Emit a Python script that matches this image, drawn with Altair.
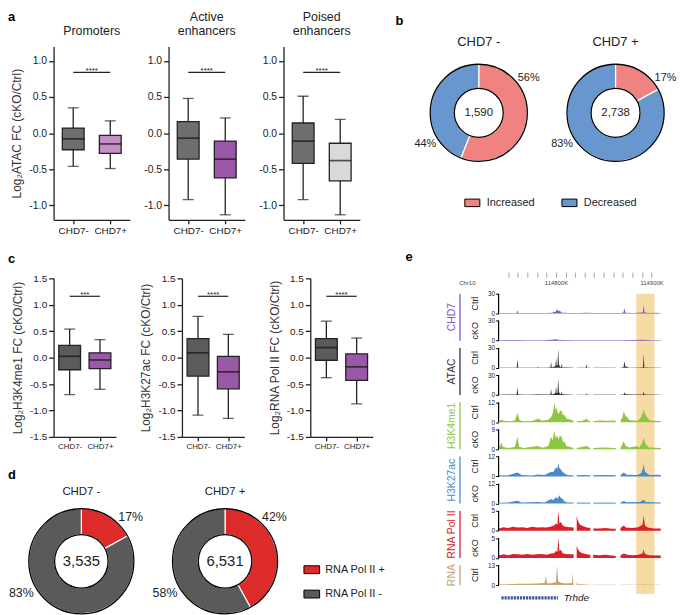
import math
import altair as alt
import pandas as pd

FONT = "Liberation Sans"
INK = "#222222"

# ---------------- data ----------------
groups = ["CHD7-", "CHD7+"]

# panel a : Log2 ATAC FC box statistics (whisker low, Q1, median, Q3, whisker high)
a_titles = [["Promoters"], ["Active", "enhancers"], ["Poised", "enhancers"]]
a_lo = [[-0.46, -0.49], [-0.92, -1.13], [-0.92, -1.13]]
a_q1 = [[-0.23, -0.28], [-0.36, -0.62], [-0.42, -0.66]]
a_med = [[-0.08, -0.15], [-0.07, -0.36], [-0.11, -0.38]]
a_q3 = [[0.07, -0.03], [0.16, -0.11], [0.14, -0.14]]
a_hi = [[0.35, 0.17], [0.48, 0.21], [0.51, 0.19]]
a_fill = [["#6E6E6E", "#C48FC5"], ["#6E6E6E", "#9B58A8"], ["#6E6E6E", "#D9D9D9"]]
a_sig = ["****", "****", "****"]
a_sig_y = [0.84, 0.84, 0.84]
a_ticks = [-1.0, -0.5, 0.0, 0.5, 1.0]
a_ytitle = "Log₂ATAC FC (cKO/Ctrl)"

# panel c
c_ytitles = ["Log₂H3K4me1 FC (cKO/Ctrl)", "Log₂H3K27ac FC (cKO/Ctrl)", "Log₂RNA Pol II FC (cKO/Ctrl)"]
c_lo = [[-0.70, -0.60], [-1.09, -1.15], [-0.38, -0.875]]
c_q1 = [[-0.23, -0.21], [-0.35, -0.59], [-0.05, -0.43]]
c_med = [[0.025, -0.045], [0.09, -0.27], [0.19, -0.175]]
c_q3 = [[0.23, 0.09], [0.36, 0.025], [0.36, 0.07]]
c_hi = [[0.54, 0.34], [0.78, 0.44], [0.69, 0.37]]
c_fill = [["#5B5B5B", "#9A59A7"], ["#5B5B5B", "#9A59A7"], ["#5B5B5B", "#9A59A7"]]
c_sig = ["***", "****", "****"]
c_sig_y = [1.16, 1.16, 1.16]
c_ticks = [-1.5, -1.0, -0.5, 0.0, 0.5, 1.0, 1.5]

# panel b
b_titles = ["CHD7 -", "CHD7 +"]
b_totals = [1590, 2738]
b_cats = ["Increased", "Decreased"]
b_pct = [[56, 44], [17, 83]]
b_colors = ["#F08282", "#6897CF"]

# panel d
d_titles = ["CHD7 -", "CHD7 +"]
d_totals = [3535, 6531]
d_cats = ["RNA Pol II +", "RNA Pol II -"]
d_pct = [[17, 83], [42, 58]]
d_colors = ["#DD2A2B", "#5A5A5A"]

# panel e : genome browser (positions in kb from window start, signal values)
WIN_START = 114740
WIN_END = 114910
ruler_ticks = list(range(114750, 114901, 10))
track_cond = ["Ctrl", "cKO", "Ctrl", "cKO", "Ctrl", "cKO", "Ctrl", "cKO", "Ctrl", "cKO", "Ctrl"]
track_group = [0, 0, 1, 1, 2, 2, 3, 3, 4, 4, 5]
track_max = [30, 30, 30, 30, 12, 9, 12, 12, 5, 5, 13]
group_names = ["CHD7", "ATAC", "H3K4me1", "H3K27ac", "RNA Pol II", "RNA"]
group_colors = ["#7E57C2", "#333333", "#8DC63F", "#4A8ACB", "#DA2128", "#C9A06E"]

chd7_ctrl = [(0.3, 0.6), (10, 0.8), (18.8, 0.7), (19.7, 5), (20.6, 0.8), (30, 0.6), (41, 0.9), (50, 0.7),
             (56.5, 1.2), (58, 3), (59.5, 2), (61.1, 7), (62.5, 3), (64, 4.5), (65.5, 1.5), (68, 1), (75, 0.7),
             (85, 0.8), (92, 1.2), (100, 0.7), (110, 0.9), (120, 0.6), (128, 0.8), (130.6, 1.5), (131.6, 8),
             (132.6, 1.2), (140, 0.8), (150.9, 1.5), (151.7, 14), (152.5, 1.5), (158, 0.8), (165, 1), (169.6, 0.7)]
chd7_cko = [(0.3, 0.6), (15, 0.9), (30, 0.7), (45, 0.8), (55, 1.2), (60, 2), (62, 1.5), (66, 1), (80, 0.8),
            (95, 0.6), (110, 0.8), (125, 0.7), (140, 0.9), (151.7, 1.3), (160, 0.8), (169.6, 0.7)]
atac_ctrl = [(0.3, 0.5), (10, 0.6), (18.9, 0.6), (19.7, 13), (20.5, 0.6), (30, 0.5), (40.5, 0.6), (41.1, 2),
             (41.7, 0.6), (50, 0.6), (54.2, 0.8), (54.9, 9), (55.6, 0.8), (58, 1.5), (59.4, 3), (60.1, 15),
             (60.8, 3), (61.6, 4), (62.3, 29), (63.1, 5), (64.2, 2), (65.4, 1), (66, 7), (66.7, 1), (70, 0.7),
             (78.5, 0.5), None, (81.7, 0.5), (91.2, 0.6), (91.9, 5.5), (92.6, 0.6), (96, 0.5), None,
             (99, 0.5), (110, 0.6), (122.5, 0.5), None, (127.5, 0.5), (130.6, 1), (131.6, 10), (132.5, 2),
             (134.4, 1.5), (136, 0.6), (145, 0.6), (151, 1), (151.7, 21), (152.4, 1), (160, 0.5), (169.6, 0.5)]
atac_cko = [(0.3, 0.5), (10, 0.6), (18.9, 0.6), (19.7, 11.5), (20.5, 0.6), (30, 0.5), (40.5, 0.6), (41.1, 1.5),
            (41.7, 0.6), (50, 0.6), (54.2, 0.8), (54.9, 9), (55.6, 0.8), (59.4, 2.5), (60.1, 13), (60.8, 2.5),
            (61.6, 3.5), (62.3, 25), (63.1, 4.5), (64.2, 2), (65.4, 1), (66, 5.5), (66.7, 1), (70, 0.7),
            (78.5, 0.5), None, (81.7, 0.5), (91.2, 0.5), (91.9, 2.3), (92.6, 0.5), (96, 0.5), None,
            (99, 0.5), (122.5, 0.5), None, (127.5, 0.5), (130.9, 0.6), (131.6, 4.6), (132.4, 1), (140, 0.6),
            (151, 0.8), (151.7, 5.5), (152.4, 0.8), (169.6, 0.5)]
k4_ctrl = [(0.3, 0.6), (2, 1.2), (3.1, 1.5), (5, 0.8), (12, 0.6), (17, 1), (19.7, 5.6), (22, 1.2), (26, 0.6),
           (35, 0.7), (41.1, 2), (46, 0.8), (52, 1.5), (55, 3), (57, 6), (58.4, 12), (59.5, 7), (60.5, 9),
           (61.5, 6), (63, 5), (64.5, 7), (66, 6.6), (67.5, 4), (68.7, 4.5), (71, 2), (75.7, 1.5), (78.5, 0.7),
           None, (81.7, 0.6), (88, 0.8), (91.9, 2), (94, 0.8), (96, 0.6), None, (99, 0.6), (105, 1),
           (113, 0.8), (121, 1), (122.5, 0.7), None, (127.5, 0.8), (129.5, 3), (130.9, 6.6), (132.5, 4),
           (134.4, 3), (137, 1.2), (141.3, 1), (145, 0.8), (148, 2), (150.5, 5), (151.7, 7.7), (153, 5),
           (155.1, 3), (158, 1), (162, 0.8), (169.6, 0.7)]
k4_cko = [(0.3, 0.7), (2, 2), (3.1, 2.9), (4.5, 1), (10, 0.6), (17, 1), (19.7, 5.7), (21.5, 1.2), (26, 0.6),
          (41.1, 1.5), (46, 0.7), (52, 1.5), (54.9, 5.7), (56.5, 4), (58.4, 8.6), (59.5, 5), (61.1, 6.4),
          (62.5, 4.5), (64, 6), (66, 5.7), (67.5, 3), (68.7, 3.6), (71, 1.5), (78.5, 0.6), None, (81.7, 0.6),
          (91.9, 1.5), (96, 0.6), None, (99, 0.6), (110, 0.8), (122.5, 0.6), None, (127.5, 0.6),
          (130.9, 3.6), (133, 1.5), (137, 0.8), (144.8, 1.5), (147, 0.8), (150, 2.5), (151.7, 5.3),
          (153.5, 2.5), (157, 0.8), (169.6, 0.6)]
k27_ctrl = [(0.3, 0.5), (10, 0.7), (19.7, 2.4), (24, 0.8), (35, 0.6), (41.1, 1.2), (48, 0.8), (54.9, 2.8),
            (57, 2.5), (60.1, 5.5), (61.5, 4.5), (62.5, 8), (63.6, 5), (65.3, 4.2), (66.5, 3), (68.7, 2),
            (72, 0.8), (78.5, 0.6), None, (81.7, 0.7), (88, 0.9), (96, 0.7), None, (99, 0.7), (110, 0.9),
            (122.5, 0.7), None, (127.5, 0.8), (130.9, 2.4), (134, 1), (145, 0.9), (149, 2), (150.5, 4),
            (151.7, 7.4), (153, 3), (155.1, 2), (158, 0.8), (165.5, 1), (169.6, 0.8)]
k27_cko = [(0.3, 0.5), (10, 0.6), (19.7, 1.7), (24, 0.7), (41.1, 1), (48, 0.7), (54.9, 2.8), (57, 2),
           (60.1, 4), (61.5, 3), (63.6, 5), (65, 3.5), (67, 2.8), (69, 1.2), (72, 0.7), (78.5, 0.6), None,
           (81.7, 0.6), (96, 0.6), None, (99, 0.6), (122.5, 0.6), None, (127.5, 0.6), (130.9, 1.5),
           (134, 0.8), (148, 1), (151.7, 2.4), (154, 1), (169.6, 0.6)]
pol_ctrl = [(0.3, 0.6), (5, 0.9), (10, 0.7), (15, 1), (20, 0.8), (25, 0.9), (30, 0.7), (35, 1), (40, 0.8),
            (45, 0.9), (50, 0.8), (55, 1.1), (58, 1.3), (60.1, 1.8), (61.5, 1.5), (62.5, 5), (63.6, 1.8),
            (65.3, 2.2), (67, 1.3), (70, 1), (75, 0.9), (78.5, 0.8), None, (81.7, 3.8), (83, 2.5), (85, 1.6),
            (88, 1.2), (92, 0.8), (96, 0.7), None, (99, 0.6), (105, 0.6), (112, 0.7), (118, 0.5),
            (122.5, 0.5), None, (127.5, 0.7), (130.9, 1.3), (133, 0.8), (140, 0.7), (146, 0.9), (150.5, 1.5),
            (151.7, 3.8), (153, 1.4), (156, 0.8), (162, 0.6), (169.6, 0.6)]
pol_cko = [(0.3, 0.6), (5, 0.9), (10, 0.7), (15, 1), (20, 0.9), (25, 0.8), (30, 1), (35, 0.8), (40, 0.9),
           (45, 1), (50, 0.8), (55, 1.1), (58, 1.2), (60.1, 1.8), (61.5, 1.5), (62.5, 5), (63.6, 1.8),
           (65.3, 2), (67, 1.2), (70, 1), (75, 0.9), (78.5, 0.9), None, (81.7, 3.1), (83, 2.2), (85, 1.5),
           (88, 1.2), (92, 0.9), (96, 0.8), None, (99, 0.8), (105, 0.7), (112, 0.8), (118, 0.6),
           (122.5, 0.5), None, (127.5, 0.7), (131, 1.1), (135, 0.8), (140, 0.7), (146, 0.8), (150.5, 1.1),
           (151.7, 2.2), (153, 1), (158, 0.7), (169.6, 0.6)]
rna_ctrl = [(0.3, 0.4), (10, 0.6), (20, 0.8), (30, 0.9), (40, 1.1), (48, 1.4), (49.5, 5.9), (50.5, 1.2),
            (55, 1.2), (60, 2), (61.1, 13), (62.3, 2.5), (65, 1.5), (70, 1), (75, 1.2), (76.8, 1.5),
            (77.4, 8.4), (78, 1.5), (78.4, 0.5), None, (81.7, 2), (83, 0.5), (90, 0.3), (96, 0.2), None,
            (99, 0.2), (122.5, 0.2), None, (127.5, 0.2), (150, 0.2), (151.7, 0.5), (153, 0.2), (169.6, 0.2)]
track_profiles = [chd7_ctrl, chd7_cko, atac_ctrl, atac_cko, k4_ctrl, k4_cko, k27_ctrl, k27_cko,
                  pol_ctrl, pol_cko, rna_ctrl]
gene_name = "Trhde"
gene_start, gene_end = 114743, 114802
band_start, band_end = 114884, 114903

# ---------------- helpers ----------------
NUM_LABEL = "(datum.value < 0 ? '-' : '') + format(abs(datum.value), '.1f')"


def box_panel(lo, q1, med, q3, hi, fill, sig, sig_y, domain, ticks, width, height,
              ytitle, xlab_size, ylab_size, title=None):
    df = pd.DataFrame({"g": groups, "lo": lo, "q1": q1, "med": med, "q3": q3, "hi": hi, "fill": fill})
    xs = alt.Scale(type="point", domain=groups, padding=0.53)
    xa = alt.Axis(title=None, labelAngle=0, labelFontSize=xlab_size, tickSize=4, labelPadding=2,
                  domainColor=INK, tickColor=INK, domainWidth=1.3, tickWidth=1.3, labelColor="#222")
    ys = alt.Scale(domain=domain, nice=False, zero=False)
    ya = alt.Axis(title=ytitle, values=ticks, labelExpr=NUM_LABEL, tickSize=5, labelPadding=2,
                  domainColor=INK, tickColor=INK, domainWidth=1.3, tickWidth=1.3, labelFontSize=ylab_size,
                  labelColor="#222", titleFontSize=12, titleFontWeight="normal", titleColor="#333",
                  titlePadding=5, labelFlush=False)

    def X(f):
        return alt.X(f, type="nominal", scale=xs, axis=xa)

    def Y(f):
        return alt.Y(f, type="quantitative", scale=ys, axis=ya)

    base = alt.Chart(df)
    whisk = base.mark_rule(color=INK, strokeWidth=1.3).encode(x=X("g"), y=Y("lo"), y2="hi:Q")
    cap_lo = base.mark_tick(color=INK, size=11, thickness=1.3).encode(x=X("g"), y=Y("lo"))
    cap_hi = base.mark_tick(color=INK, size=11, thickness=1.3).encode(x=X("g"), y=Y("hi"))
    box = base.mark_bar(size=22, stroke=INK, strokeWidth=1.3).encode(
        x=X("g"), y=Y("q1"), y2="q3:Q", fill=alt.Fill("fill:N", scale=None))
    med_t = base.mark_tick(color="#111", size=22, thickness=1.7).encode(x=X("g"), y=Y("med"))
    sdf = pd.DataFrame({"g1": [groups[0]], "g2": [groups[1]], "y": [sig_y], "s": [sig]})
    step = width / (1 + 2 * 0.53)
    s_rule = alt.Chart(sdf).mark_rule(color=INK, strokeWidth=1.2).encode(x=X("g1"), x2="g2:N", y=Y("y"))
    s_txt = alt.Chart(sdf).mark_text(fontSize=8, dx=step / 2, dy=1, baseline="alphabetic", color=INK).encode(
        x=X("g1"), y=Y("y"), text="s:N")
    ch = alt.layer(whisk, cap_lo, cap_hi, box, med_t, s_rule, s_txt).properties(width=width, height=height)
    if title is not None:
        ch = ch.properties(title=alt.TitleParams(text=title, fontSize=12.5, fontWeight="normal", frame="group",
                                                 lineHeight=14.5, offset=9, color="#222"))
    return ch


def donut(title, total, cats, pct, colors, R, r, label_r, ang1, ang2, w, h, legend, title_offset,
          title_size, num_size, pct_size):
    df = pd.DataFrame({"cat": cats, "pct": pct, "order": [0, 1], "label": [f"{p}%" for p in pct]})
    base = alt.Chart(df)
    arcs = base.mark_arc(outerRadius=R, innerRadius=r, stroke="white", strokeWidth=1.2).encode(
        theta=alt.Theta("pct:Q", stack=True),
        color=alt.Color("cat:N", scale=alt.Scale(domain=cats, range=colors), legend=legend),
        order=alt.Order("order:Q"))
    ring = alt.Chart(pd.DataFrame({"full": [sum(pct)]})).mark_arc(
        outerRadius=R, innerRadius=r, fillOpacity=0, stroke="black", strokeWidth=1.3).encode(
        theta=alt.Theta("full:Q"))
    center = alt.Chart(pd.DataFrame({"total": [total]})).mark_text(fontSize=num_size, color="#222").encode(
        text=alt.Text("total:Q", format=","))
    lab1 = base.transform_filter(alt.datum.order == 0).mark_text(
        radius=label_r, theta=math.radians(ang1), align="left", baseline="middle", fontSize=pct_size,
        color="#222").encode(text="label:N")
    lab2 = base.transform_filter(alt.datum.order == 1).mark_text(
        radius=label_r, theta=math.radians(ang2), align="right", baseline="middle", fontSize=pct_size,
        color="#222").encode(text="label:N")
    return alt.layer(arcs, ring, center, lab1, lab2).properties(
        width=w, height=h,
        title=alt.TitleParams(text=title, fontSize=title_size, fontWeight="normal", offset=title_offset,
                              frame="group", color="#222"))


def letter(t, dx, offset, dy=0):
    return alt.TitleParams(text=t, anchor="start", frame="group", dx=dx, dy=dy, offset=offset,
                           fontSize=13, fontWeight="bold", color="black")


SWATCH = "M-1,-0.5L1,-0.5L1,0.5L-1,0.5Z"

# ---------------- row a ----------------
a_charts = []
for i in range(3):
    a_charts.append(box_panel(a_lo[i], a_q1[i], a_med[i], a_q3[i], a_hi[i], a_fill[i], a_sig[i], a_sig_y[i],
                              [-1.2, 1.2], a_ticks, 77, 175, a_ytitle if i == 0 else None, 10, 10.5,
                              title=a_titles[i]))
rowA = alt.hconcat(*a_charts, spacing=39, bounds="flush").properties(title=letter("a", -46, 0, dy=13))

# ---------------- row c ----------------
c_charts = []
for i in range(3):
    c_charts.append(box_panel(c_lo[i], c_q1[i], c_med[i], c_q3[i], c_hi[i], c_fill[i], c_sig[i], c_sig_y[i],
                              [-1.5, 1.5], c_ticks, 63, 160, c_ytitles[i], 8, 10))
rowC = alt.hconcat(*c_charts, spacing=66.5, bounds="flush").properties(title=letter("c", -46, 7))

# ---------------- row d ----------------
leg_d = alt.Legend(title=None, orient="none", legendX=107, legendY=53.5, direction="vertical",
                   symbolType=SWATCH, symbolSize=250, symbolStrokeColor="black", symbolStrokeWidth=1,
                   symbolOpacity=1, labelFontSize=11, labelOffset=5, rowPadding=9.6, labelColor="#222")
d1 = donut(d_titles[0], d_totals[0], d_cats, d_pct[0], d_colors, 53, 27, 58, 40, 236, 56, 107, None,
           8.5, 11.5, 15, 12.5)
d2 = donut(d_titles[1], d_totals[1], d_cats, d_pct[1], d_colors, 53, 27, 58, 40, 236, 56, 107, leg_d,
           8.5, 11.5, 15, 12.5)
rowD = alt.hconcat(d1, d2, spacing=89, bounds="flush").resolve_scale(color="independent").resolve_legend(
    color="independent").properties(title=letter("d", -46, 4))

left = alt.vconcat(rowA, rowC, rowD, spacing=18).resolve_scale(color="independent").resolve_legend(
    color="independent")

# ---------------- row b ----------------
leg_b = alt.Legend(title=None, orient="none", legendX=43, legendY=149, direction="horizontal",
                   symbolType=SWATCH, symbolSize=230, symbolStrokeColor="black", symbolStrokeWidth=1,
                   symbolOpacity=1, labelFontSize=11, labelOffset=6, columnPadding=24, labelColor="#222")
b1 = donut(b_titles[0], b_totals[0], b_cats, b_pct[0], b_colors, 49, 24.7, 53, 48, 234, 116, 134, leg_b,
           -2.7, 13, 11.5, 11)
b2 = donut(b_titles[1], b_totals[1], b_cats, b_pct[1], b_colors, 49, 24.7, 53, 48, 234, 100, 134, None,
           -2.7, 13, 11.5, 11)
rowB = alt.hconcat(b1, b2, spacing=30, bounds="flush").resolve_scale(color="independent").resolve_legend(
    color="independent").properties(title=letter("b", -26, 8))

# ---------------- panel e ----------------
TOP0, PITCH, TRACK_H, E_H = 2, 27.4, 20, 312
TRACK_W = 164                      # pixel width of the signal window
E_PAD = 78                         # room on the left of the window for labels
KPX = TRACK_W / (WIN_END - WIN_START)
E_X0 = WIN_START - E_PAD / KPX
track_top = [round(TOP0 + PITCH * i, 2) for i in range(len(track_profiles))]
track_zero = [round(t + TRACK_H, 2) for t in track_top]

rows = []
for i, prof in enumerate(track_profiles):
    seg = 0
    for pt in prof:
        if pt is None:
            seg += 1
            continue
        rows.append({"seg": f"{i}-{seg}", "pos": WIN_START + pt[0], "val": pt[1], "mx": track_max[i],
                     "zero": track_zero[i], "color": group_colors[track_group[i]]})
sig_df = pd.DataFrame(rows)

tracks_df = pd.DataFrame({"cond": track_cond, "top": track_top, "zero": track_zero, "x0": WIN_START,
                          "mid": [(a + b) / 2 for a, b in zip(track_top, track_zero)]})
g_top, g_bot = [], []
for gi in range(len(group_names)):
    idx = [k for k, g in enumerate(track_group) if g == gi]
    g_top.append(track_top[idx[0]])
    g_bot.append(track_zero[idx[-1]])
groups_df = pd.DataFrame({"name": group_names, "color": group_colors, "top": g_top, "bot": g_bot,
                          "mid": [(a + b) / 2 for a, b in zip(g_top, g_bot)]})

lab_expr = ("indexof([" + ",".join(str(v) for v in track_top) + "], datum.value) >= 0 ? ['"
            + "','".join(str(m) for m in track_max) + "'][indexof([" + ",".join(str(v) for v in track_top)
            + "], datum.value)] : '0'")

EX_SCALE = alt.Scale(domain=[E_X0, WIN_END], nice=False, zero=False)
EX_AXIS = alt.Axis(orient="top", offset=14.7, values=ruler_ticks, tickSize=5, tickColor="#8A8A8A",
                   tickWidth=0.8, domain=False, labelExpr="datum.value % 100 === 0 ? datum.value + 'K' : ''",
                   labelFontSize=6, labelBaseline="top", labelPadding=-7, labelOverlap=False,
                   labelFlush=False, labelColor="#444", title="Chr10", titleFontSize=6,
                   titleFontWeight="normal", titleX=E_PAD - 32, titleY=5, titleAlign="center",
                   titleBaseline="middle", titleColor="#444", grid=False)
EY_SCALE = alt.Scale(domain=[0, E_H], reverse=True, nice=False, zero=False)
EY_AXIS = alt.Axis(orient="left", offset=-E_PAD, values=sorted(track_top + track_zero), labelExpr=lab_expr,
                   tickSize=3, tickColor="black", tickWidth=1, domain=False, labelFontSize=6.5, labelPadding=1,
                   labelColor="#222", title=None, labelFlush=False, labelOverlap=False, grid=False)


def EX(f):
    return alt.X(f, type="quantitative", scale=EX_SCALE, axis=EX_AXIS)


def EY(f):
    return alt.Y(f, type="quantitative", scale=EY_SCALE, axis=EY_AXIS)


band = alt.Chart(pd.DataFrame({"s": [band_start], "e": [band_end], "t": [TOP0], "b": [305]})).mark_rect(
    color="#F6DBA4").encode(x=EX("s"), x2="e:Q", y=EY("t"), y2="b:Q")
areas = alt.Chart(sig_df).transform_calculate(
    ypos=f"datum.zero - min(datum.val, datum.mx) / datum.mx * {TRACK_H}").mark_area(
    orient="vertical", interpolate="linear").encode(
    x=EX("pos"), y=EY("ypos"), y2="zero:Q", fill=alt.Fill("color:N", scale=None), detail="seg:N")
brackets = alt.Chart(tracks_df).mark_rule(color="black", strokeWidth=1.2).encode(
    x=EX("x0"), y=EY("top"), y2="zero:Q")
cond_txt = alt.Chart(tracks_df).mark_text(angle=270, fontSize=9, color="#222", baseline="middle").encode(
    x=alt.value(E_PAD - 24), y=EY("mid"), text="cond:N")
grp_line = alt.Chart(groups_df).mark_rule(strokeWidth=1.3).encode(
    x=alt.value(E_PAD - 39), y=EY("top"), y2="bot:Q", color=alt.Color("color:N", scale=None))
grp_txt = alt.Chart(groups_df).mark_text(angle=270, fontSize=10.5, baseline="middle").encode(
    x=alt.value(E_PAD - 47), y=EY("mid"), text="name:N", color=alt.Color("color:N", scale=None))
gene_df = pd.DataFrame({"s": [gene_start], "e": [gene_end], "y": [309], "name": [gene_name]})
gene = alt.Chart(gene_df).mark_rule(color="#3B55A5", strokeWidth=3.2, strokeDash=[2.2, 0.9]).encode(
    x=EX("s"), x2="e:Q", y=EY("y"))
gene_txt = alt.Chart(gene_df).mark_text(align="left", dx=6, fontSize=10, fontStyle="italic",
                                        color="#222", baseline="middle").encode(
    x=EX("e"), y=EY("y"), text="name:N")

panelE = alt.layer(band, areas, brackets, cond_txt, grp_line, grp_txt, gene, gene_txt).properties(
    width=E_PAD + TRACK_W, height=E_H, title=letter("e", -16, 8))

right = alt.vconcat(rowB, panelE, spacing=41.5).resolve_scale(color="independent").resolve_legend(
    color="independent")

chart = alt.hconcat(left, right, spacing=10).resolve_scale(color="independent").resolve_legend(
    color="independent").properties(padding=0).configure_view(stroke=None).configure_axis(
    labelFont=FONT, titleFont=FONT, grid=False).configure_text(font=FONT).configure_title(
    font=FONT).configure_legend(labelFont=FONT)

chart.save("out.html", embed_options={"renderer": "svg", "actions": False})
